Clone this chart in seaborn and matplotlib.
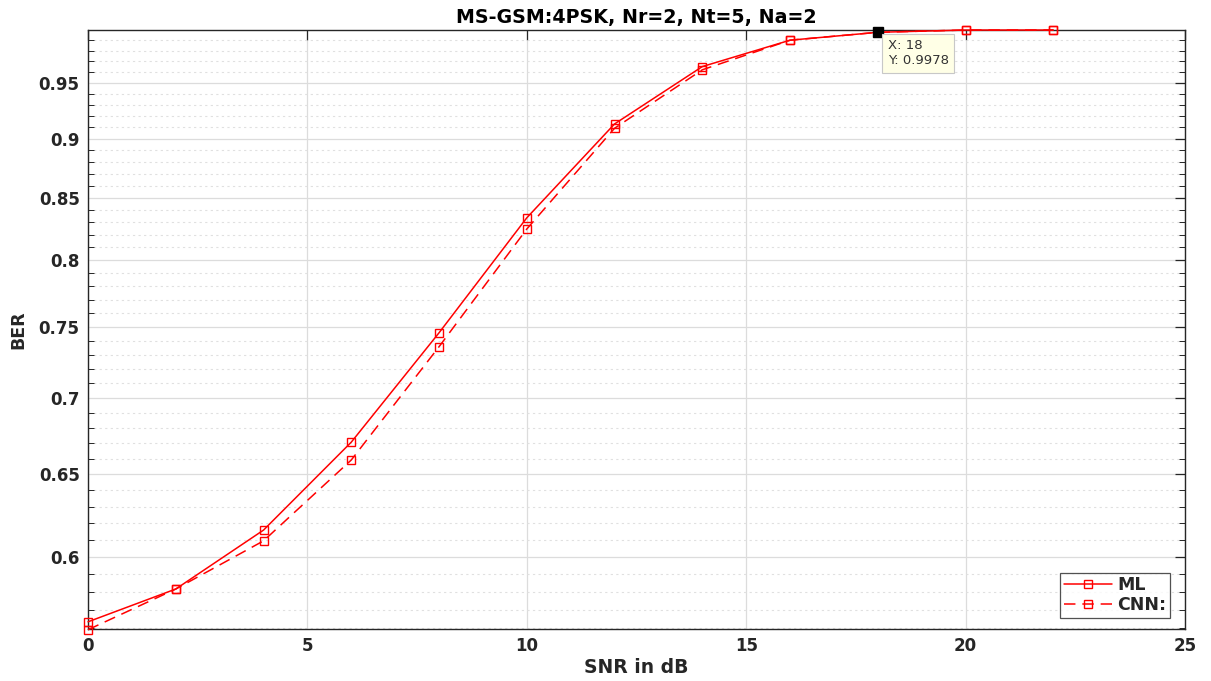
import numpy as np
import pandas as pd
import matplotlib
matplotlib.use("Agg")
import matplotlib.pyplot as plt
import seaborn as sns
from matplotlib.ticker import FixedLocator, FixedFormatter, NullFormatter

snr = [0, 2, 4, 6, 8, 10, 12, 14, 16, 18, 20, 22]
ber_ml = [0.5635, 0.5817, 0.6159, 0.6707, 0.7457, 0.8336, 0.9130, 0.9652, 0.9902, 0.9978, 1.0, 1.0]
ber_cnn = [0.5592, 0.5817, 0.6095, 0.6592, 0.7357, 0.8246, 0.9092, 0.9622, 0.9902, 0.9978, 1.0, 1.0]
y_ticks = [0.6, 0.65, 0.7, 0.75, 0.8, 0.85, 0.9, 0.95]
y_tick_labels = ["0.6", "0.65", "0.7", "0.75", "0.8", "0.85", "0.9", "0.95"]
x_ticks = [0, 5, 10, 15, 20, 25]
tip_x, tip_y = 18, 0.9978

sns.set_style("white")
plt.rcParams['font.family'] = ['DejaVu Sans']

fig = plt.figure(figsize=(12.11, 6.81), dpi=100)
ax = fig.add_axes([0.0727, 0.0764, 0.9058, 0.8795])

ax.set_yscale('log')

sns.lineplot(x=snr, y=ber_ml, ax=ax, color='#ff0000', linewidth=1.1, marker='s',
             markersize=6, markerfacecolor='none', markeredgecolor='#ff0000',
             markeredgewidth=1.0, label='ML', clip_on=False, zorder=4)
sns.lineplot(x=snr, y=ber_cnn, ax=ax, color='#ff0000', linewidth=1.1, marker='s',
             markersize=6, markerfacecolor='none', markeredgecolor='#ff0000',
             markeredgewidth=1.0, label='CNN:', clip_on=False, zorder=4)
ax.lines[1].set_linestyle((0, (7.5, 4.5)))

ax.set_xlim(0, 25)
ax.set_ylim(0.5596, 1.0)

ax.xaxis.set_major_locator(FixedLocator(x_ticks))
ax.yaxis.set_major_locator(FixedLocator(y_ticks))
ax.yaxis.set_major_formatter(FixedFormatter(y_tick_labels))
minor = [round(v, 2) for v in np.arange(0.56, 1.0, 0.01) if round(v, 2) not in y_ticks]
ax.yaxis.set_minor_locator(FixedLocator(minor))
ax.yaxis.set_minor_formatter(NullFormatter())
ax.xaxis.set_minor_locator(FixedLocator([]))

ax.grid(True, which='major', axis='both', color='#dcdcdc', linewidth=0.9, linestyle='-')
ax.grid(True, which='minor', axis='y', color='#e0e0e0', linewidth=0.8, linestyle=(0, (2, 3)))
ax.set_axisbelow(True)

for s in ax.spines.values():
    s.set_color('#262626')
    s.set_linewidth(1.0)
    s.set_visible(True)

ax.tick_params(which='major', direction='in', length=7, width=0.9, color='#262626',
               top=True, right=True, labelsize=12, labelcolor='#262626', pad=6)
ax.tick_params(which='minor', direction='in', length=4, width=0.7, color='#262626',
               left=True, right=True)
for lab in ax.get_xticklabels() + ax.get_yticklabels():
    lab.set_fontweight('bold')

ax.set_xlabel('SNR in dB', fontsize=13.5, fontweight='bold', color='#262626', labelpad=2)
ax.set_ylabel('BER', fontsize=12.5, fontweight='bold', color='#262626', labelpad=8)
ax.set_title('MS-GSM:4PSK, Nr=2, Nt=5, Na=2', fontsize=13.7, fontweight='bold', color='#000000', pad=5)

leg = ax.legend(loc='lower right', fontsize=12.5, frameon=True, fancybox=False,
                edgecolor='#262626', borderpad=0.2, labelspacing=0.1,
                handlelength=2.8, handletextpad=0.3, borderaxespad=0,
                bbox_to_anchor=(0.9865, 0.019))
leg.get_frame().set_linewidth(0.9)
for t in leg.get_texts():
    t.set_fontweight('bold')

# data tip
ax.plot([tip_x], [tip_y], marker='s', markersize=7, color='black', zorder=6, clip_on=False)
ax.annotate(f"X: {tip_x}\nY: {tip_y}", xy=(tip_x, tip_y), xytext=(7, -5),
            textcoords='offset points', ha='left', va='top', fontsize=9.5,
            color='#333333', linespacing=1.2,
            bbox=dict(boxstyle='square,pad=0.4', facecolor='#ffffe6', edgecolor='#c8c8c8', linewidth=0.8),
            zorder=7)

fig.savefig('out.png', dpi=100)
